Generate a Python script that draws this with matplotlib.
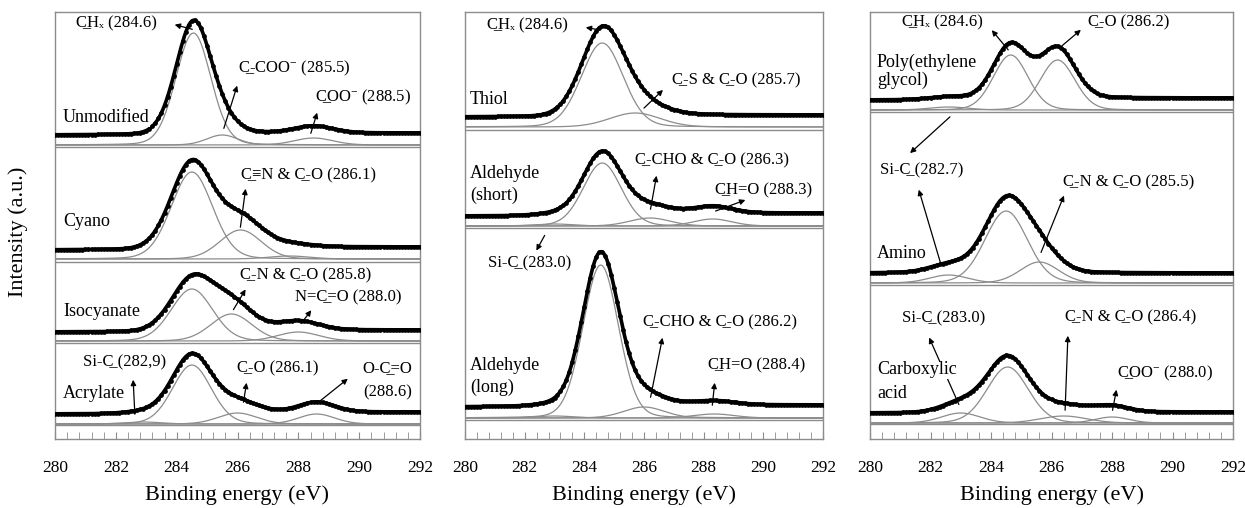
import numpy as np
import matplotlib
matplotlib.use("Agg")
import matplotlib.pyplot as plt
from matplotlib.ticker import MultipleLocator

plt.rcParams["font.family"] = ["Liberation Serif", "DejaVu Serif"]
plt.rcParams["mathtext.fontset"] = "custom"
plt.rcParams["mathtext.rm"] = "Liberation Serif"
plt.rcParams["mathtext.default"] = "regular"

U = "\u0332"  # combining low line -> underlines the letter before it
SUP = "$^{-}$"

energy = np.arange(280.0, 292.0001, 0.05)

# ---- left panel: fitted C1s components (centre eV, height a.u., fwhm eV), background [low, high]
unmod_center = [284.55, 285.5, 288.5]
unmod_height = [112, 10, 7]
unmod_fwhm = [1.35, 1.2, 1.5]
unmod_bg = [10, 12]

cyano_center = [284.5, 286.1, 287.7]
cyano_height = [87, 29, 3]
cyano_fwhm = [1.6, 1.6, 1.6]
cyano_bg = [9, 12]

isocy_center = [284.5, 285.8, 288.0]
isocy_height = [52, 27, 9]
isocy_fwhm = [1.6, 1.6, 1.6]
isocy_bg = [9, 11]

acryl_center = [282.9, 284.5, 286.0, 288.6]
acryl_height = [2, 59, 11, 10]
acryl_fwhm = [1.4, 1.5, 1.5, 1.4]
acryl_bg = [10, 12]

# ---- middle panel
thiol_center = [284.6, 285.7]
thiol_height = [84, 14]
thiol_fwhm = [1.65, 2.0]
thiol_bg = [10, 12]

ald_s_center = [283.0, 284.6, 286.2, 288.3]
ald_s_height = [2, 63, 8, 7]
ald_s_fwhm = [1.5, 1.5, 1.6, 1.5]
ald_s_bg = [10, 13]

ald_l_center = [283.0, 284.55, 286.0, 288.35]
ald_l_height = [2, 153, 11, 4]
ald_l_fwhm = [1.5, 1.4, 1.6, 1.6]
ald_l_bg = [11, 13]

# ---- right panel
peg_center = [282.6, 284.65, 286.2]
peg_height = [3, 55, 50]
peg_fwhm = [1.5, 1.35, 1.35]
peg_bg = [10, 12]

amino_center = [282.6, 284.5, 285.6]
amino_height = [8, 72, 21]
amino_fwhm = [1.5, 1.65, 1.5]
amino_bg = [10, 10]

carbox_center = [283.0, 284.55, 286.4, 288.0]
carbox_height = [10, 56, 7, 6]
carbox_fwhm = [1.5, 1.6, 1.8, 1.3]
carbox_bg = [10, 11]

LORENTZ = 0.1

W, H = 1245, 508
fig = plt.figure(figsize=(W / 100, H / 100), dpi=100)

# axes boxes in image pixels: left, right ; all share top 12 / bottom 439
boxes = [(55, 420), (465, 823), (870, 1233)]
TOP, BOT = 12, 439

panels = [
    [(unmod_center, unmod_height, unmod_fwhm, unmod_bg, 294, 292),
     (cyano_center, cyano_height, cyano_fwhm, cyano_bg, 180, 177),
     (isocy_center, isocy_height, isocy_fwhm, isocy_bg, 98, 96),
     (acryl_center, acryl_height, acryl_fwhm, acryl_bg, 15, 14)],
    [(thiol_center, thiol_height, thiol_fwhm, thiol_bg, 312, 309),
     (ald_s_center, ald_s_height, ald_s_fwhm, ald_s_bg, 213, 211),
     (ald_l_center, ald_l_height, ald_l_fwhm, ald_l_bg, 21, 19)],
    [(peg_center, peg_height, peg_fwhm, peg_bg, 329, 327),
     (amino_center, amino_height, amino_fwhm, amino_bg, 156, 154),
     (carbox_center, carbox_height, carbox_fwhm, carbox_bg, 16, 15)],
]

GREY = "#8c8c8c"


def peak(c, h, w):
    d = (energy - c) / w
    g = np.exp(-4 * np.log(2) * d ** 2)
    lo = 1.0 / (1.0 + 4 * d ** 2)
    return h * ((1 - LORENTZ) * g + LORENTZ * lo)


for (left, right), spectra in zip(boxes, panels):
    ax = fig.add_axes([left / W, (H - BOT) / H, (right - left) / W, (BOT - TOP) / H])
    ax.set_xlim(280, 292)
    ax.set_ylim(0, BOT - TOP)
    for centers, heights, fwhms, bg, base, divider in spectra:
        comps = [peak(c, h, w) for c, h, w in zip(centers, heights, fwhms)]
        total = np.sum(comps, axis=0)
        frac = np.cumsum(total) / total.sum()
        back = bg[0] + (bg[1] - bg[0]) * frac
        ax.axhline(divider, color=GREY, lw=1.0, zorder=1)
        for comp in comps:
            ax.plot(energy, base + comp, color=GREY, lw=0.9, zorder=2)
        ax.plot(energy, base + total + back, color="black", lw=2.6,
                marker="o", ms=2.4, markevery=2, zorder=3)
    for sp in ax.spines.values():
        sp.set_color(GREY)
        sp.set_linewidth(1.0)
    ax.set_yticks([])
    ax.xaxis.set_major_locator(MultipleLocator(2))
    ax.xaxis.set_minor_locator(MultipleLocator(0.4))
    ax.tick_params(axis="x", which="both", direction="in", length=5,
                   color=GREY, pad=15, labelsize=12.5)
    ax.set_xlabel("Binding energy (eV)", fontsize=16, labelpad=7)

fig.text(18 / W, 1 - 232 / H, "Intensity (a.u.)", rotation=90,
         ha="center", va="center", fontsize=16)

# peak labels: text, x, y (image pixels, left/centre), alignment
peak_labels = [
    ("C" + U + "H\u2093 (284.6)", 76, 23, "left"),
    ("C" + U + "-COO" + SUP + " (285.5)", 238, 68, "left"),
    ("C" + U + "OO" + SUP + " (288.5)", 315, 97, "left"),
    ("C" + U + "\u2261N & C" + U + "-O (286.1)", 241, 175, "left"),
    ("C" + U + "-N & C" + U + "-O (285.8)", 240, 275, "left"),
    ("N=C" + U + "=O (288.0)", 295, 297, "left"),
    ("Si-C" + U + " (282,9)", 83, 362, "left"),
    ("C" + U + "-O (286.1)", 237, 368, "left"),
    ("O-C" + U + "=O", 412, 368, "right"),
    ("(288.6)", 412, 392, "right"),
    ("C" + U + "H\u2093 (284.6)", 487, 25, "left"),
    ("C" + U + "-S & C" + U + "-O (285.7)", 672, 80, "left"),
    ("C" + U + "-CHO & C" + U + "-O (286.3)", 635, 160, "left"),
    ("C" + U + "H=O (288.3)", 715, 190, "left"),
    ("Si-C" + U + " (283.0)", 488, 263, "left"),
    ("C" + U + "-CHO & C" + U + "-O (286.2)", 643, 322, "left"),
    ("C" + U + "H=O (288.4)", 708, 365, "left"),
    ("C" + U + "H\u2093 (284.6)", 902, 22, "left"),
    ("C" + U + "-O (286.2)", 1088, 22, "left"),
    ("Si-C" + U + " (282.7)", 880, 170, "left"),
    ("C" + U + "-N & C" + U + "-O (285.5)", 1063, 182, "left"),
    ("Si-C" + U + " (283.0)", 902, 318, "left"),
    ("C" + U + "-N & C" + U + "-O (286.4)", 1065, 317, "left"),
    ("C" + U + "OO" + SUP + " (288.0)", 1117, 373, "left"),
]

sample_labels = [
    ("Unmodified", 63, 118), ("Cyano", 63, 222), ("Isocyanate", 63, 312),
    ("Acrylate", 63, 393),
    ("Thiol", 470, 100), ("Aldehyde", 470, 173), ("(short)", 470, 195),
    ("Aldehyde", 470, 365), ("(long)", 470, 387),
    ("Poly(ethylene", 877, 62), ("glycol)", 877, 80), ("Amino", 877, 253),
    ("Carboxylic", 877, 370), ("acid", 877, 393),
]

arrows = [
    ((195, 30), (172, 24)), ((223, 131), (238, 83)), ((310, 136), (318, 110)),
    ((240, 230), (246, 186)), ((232, 312), (247, 287)), ((300, 325), (313, 308)),
    ((135, 417), (133, 377)), ((243, 405), (247, 380)), ((315, 405), (350, 377)),
    ((600, 30), (583, 27)), ((642, 110), (665, 88)), ((650, 212), (657, 173)),
    ((713, 212), (748, 199)), ((546, 233), (535, 253)), ((650, 400), (663, 335)),
    ((712, 408), (715, 380)),
    ((1010, 52), (990, 28)), ((1057, 50), (1083, 28)), ((952, 115), (908, 155)),
    ((942, 268), (918, 187)), ((1040, 255), (1065, 193)), ((960, 407), (928, 335)),
    ((1065, 413), (1068, 333)), ((1112, 413), (1117, 387)),
]

for (tx, ty), (hx, hy) in arrows:
    fig.add_artist(matplotlib.patches.FancyArrowPatch(
        (tx / W, 1 - ty / H), (hx / W, 1 - hy / H), transform=fig.transFigure,
        arrowstyle="-|>", mutation_scale=8, lw=0.9, color="black", zorder=4))

for s, x, y, ha in peak_labels:
    fig.text(x / W, 1 - y / H, s, ha=ha, va="center", fontsize=12, zorder=5)

for s, x, y in sample_labels:
    fig.text(x / W, 1 - y / H, s, ha="left", va="center", fontsize=13, zorder=5,
             bbox=dict(facecolor="white", edgecolor="none", pad=0))

fig.savefig("out.png", dpi=100)
